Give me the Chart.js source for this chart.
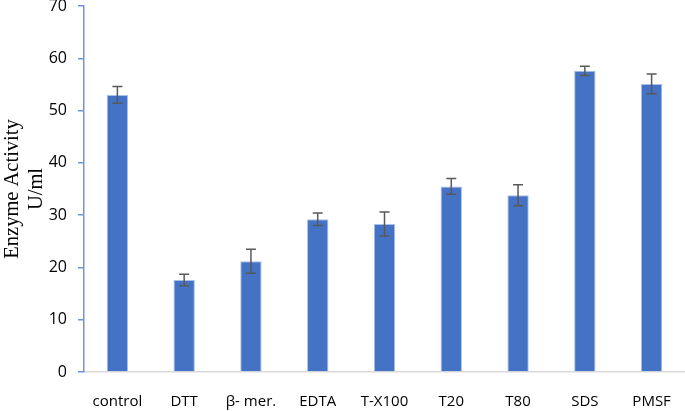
<!DOCTYPE html>
<html>
<head>
<meta charset="utf-8">
<script src="https://cdn.jsdelivr.net/npm/chart.js@4"></script>
<style>
  html, body { margin: 0; padding: 0; background: #ffffff; }
  #wrap { width: 685px; height: 411px; }
</style>
</head>
<body>
<div id="wrap"><canvas id="c" width="685" height="411"></canvas></div>
<script>
const categories = ['control', 'DTT', 'β- mer.', 'EDTA', 'T-X100', 'T20', 'T80', 'SDS', 'PMSF'];
const activity = [53.0, 17.6, 21.2, 29.2, 28.3, 35.5, 33.8, 57.6, 55.1];
const errors = [1.6, 1.1, 2.3, 1.2, 2.3, 1.5, 2.0, 0.9, 1.9];
const yTicks = [0, 10, 20, 30, 40, 50, 60, 70];
const yTitle = ['Enzyme Activity', 'U/ml'];

const errorBarPlugin = {
  id: 'errorBars',
  afterDatasetsDraw(chart) {
    const ctx = chart.ctx;
    const meta = chart.getDatasetMeta(0);
    const y = chart.scales.y;
    ctx.save();
    ctx.strokeStyle = '#595959';
    ctx.lineWidth = 1.5;
    meta.data.forEach((bar, i) => {
      const v = activity[i], e = errors[i];
      const yt = y.getPixelForValue(v + e);
      const yb = y.getPixelForValue(v - e);
      const x = bar.x;
      ctx.beginPath();
      ctx.moveTo(x, yt); ctx.lineTo(x, yb);
      ctx.moveTo(x - 5, yt); ctx.lineTo(x + 5, yt);
      ctx.moveTo(x - 5, yb); ctx.lineTo(x + 5, yb);
      ctx.stroke();
    });
    ctx.restore();
  }
};

new Chart(document.getElementById('c'), {
  type: 'bar',
  data: {
    labels: categories,
    datasets: [{
      data: activity,
      backgroundColor: '#4472C4',
      borderColor: '#A9C0E8',
      borderWidth: 1,
      categoryPercentage: 1.0,
      barPercentage: 0.32
    }]
  },
  options: {
    responsive: false,
    animation: false,
    devicePixelRatio: 1,
    layout: { padding: { top: 6, right: 0, bottom: 0, left: 0 } },
    plugins: { legend: { display: false }, tooltip: { enabled: false } },
    scales: {
      x: {
        grid: { display: false, drawTicks: false },
        border: { color: '#D9D9D9', width: 1.5 },
        ticks: {
          color: '#000000',
          font: { family: 'Open Sans', size: 15 },
          padding: 21,
          maxRotation: 0
        },
        afterFit(s) { s.height = 39; s.paddingLeft = 0; s.paddingRight = 0; }
      },
      y: {
        min: 0,
        max: 70,
        afterBuildTicks(s) { s.ticks = yTicks.map(v => ({ value: v })); },
        grid: { drawOnChartArea: false, drawTicks: true, tickLength: 6, color: '#6F95D8', lineWidth: 1.5 },
        border: { color: '#6F95D8', width: 1.5 },
        ticks: {
          color: '#000000',
          font: { family: 'Open Sans', size: 16 },
          padding: 11
        },
        title: {
          display: true,
          text: yTitle,
          color: '#000000',
          font: { family: 'Liberation Serif', size: 20.5 },
          padding: 0
        },
        afterFit(s) { s.width = 84; s.paddingTop = 0; s.paddingBottom = 0; }
      }
    }
  },
  plugins: [errorBarPlugin]
});
</script>
</body>
</html>
